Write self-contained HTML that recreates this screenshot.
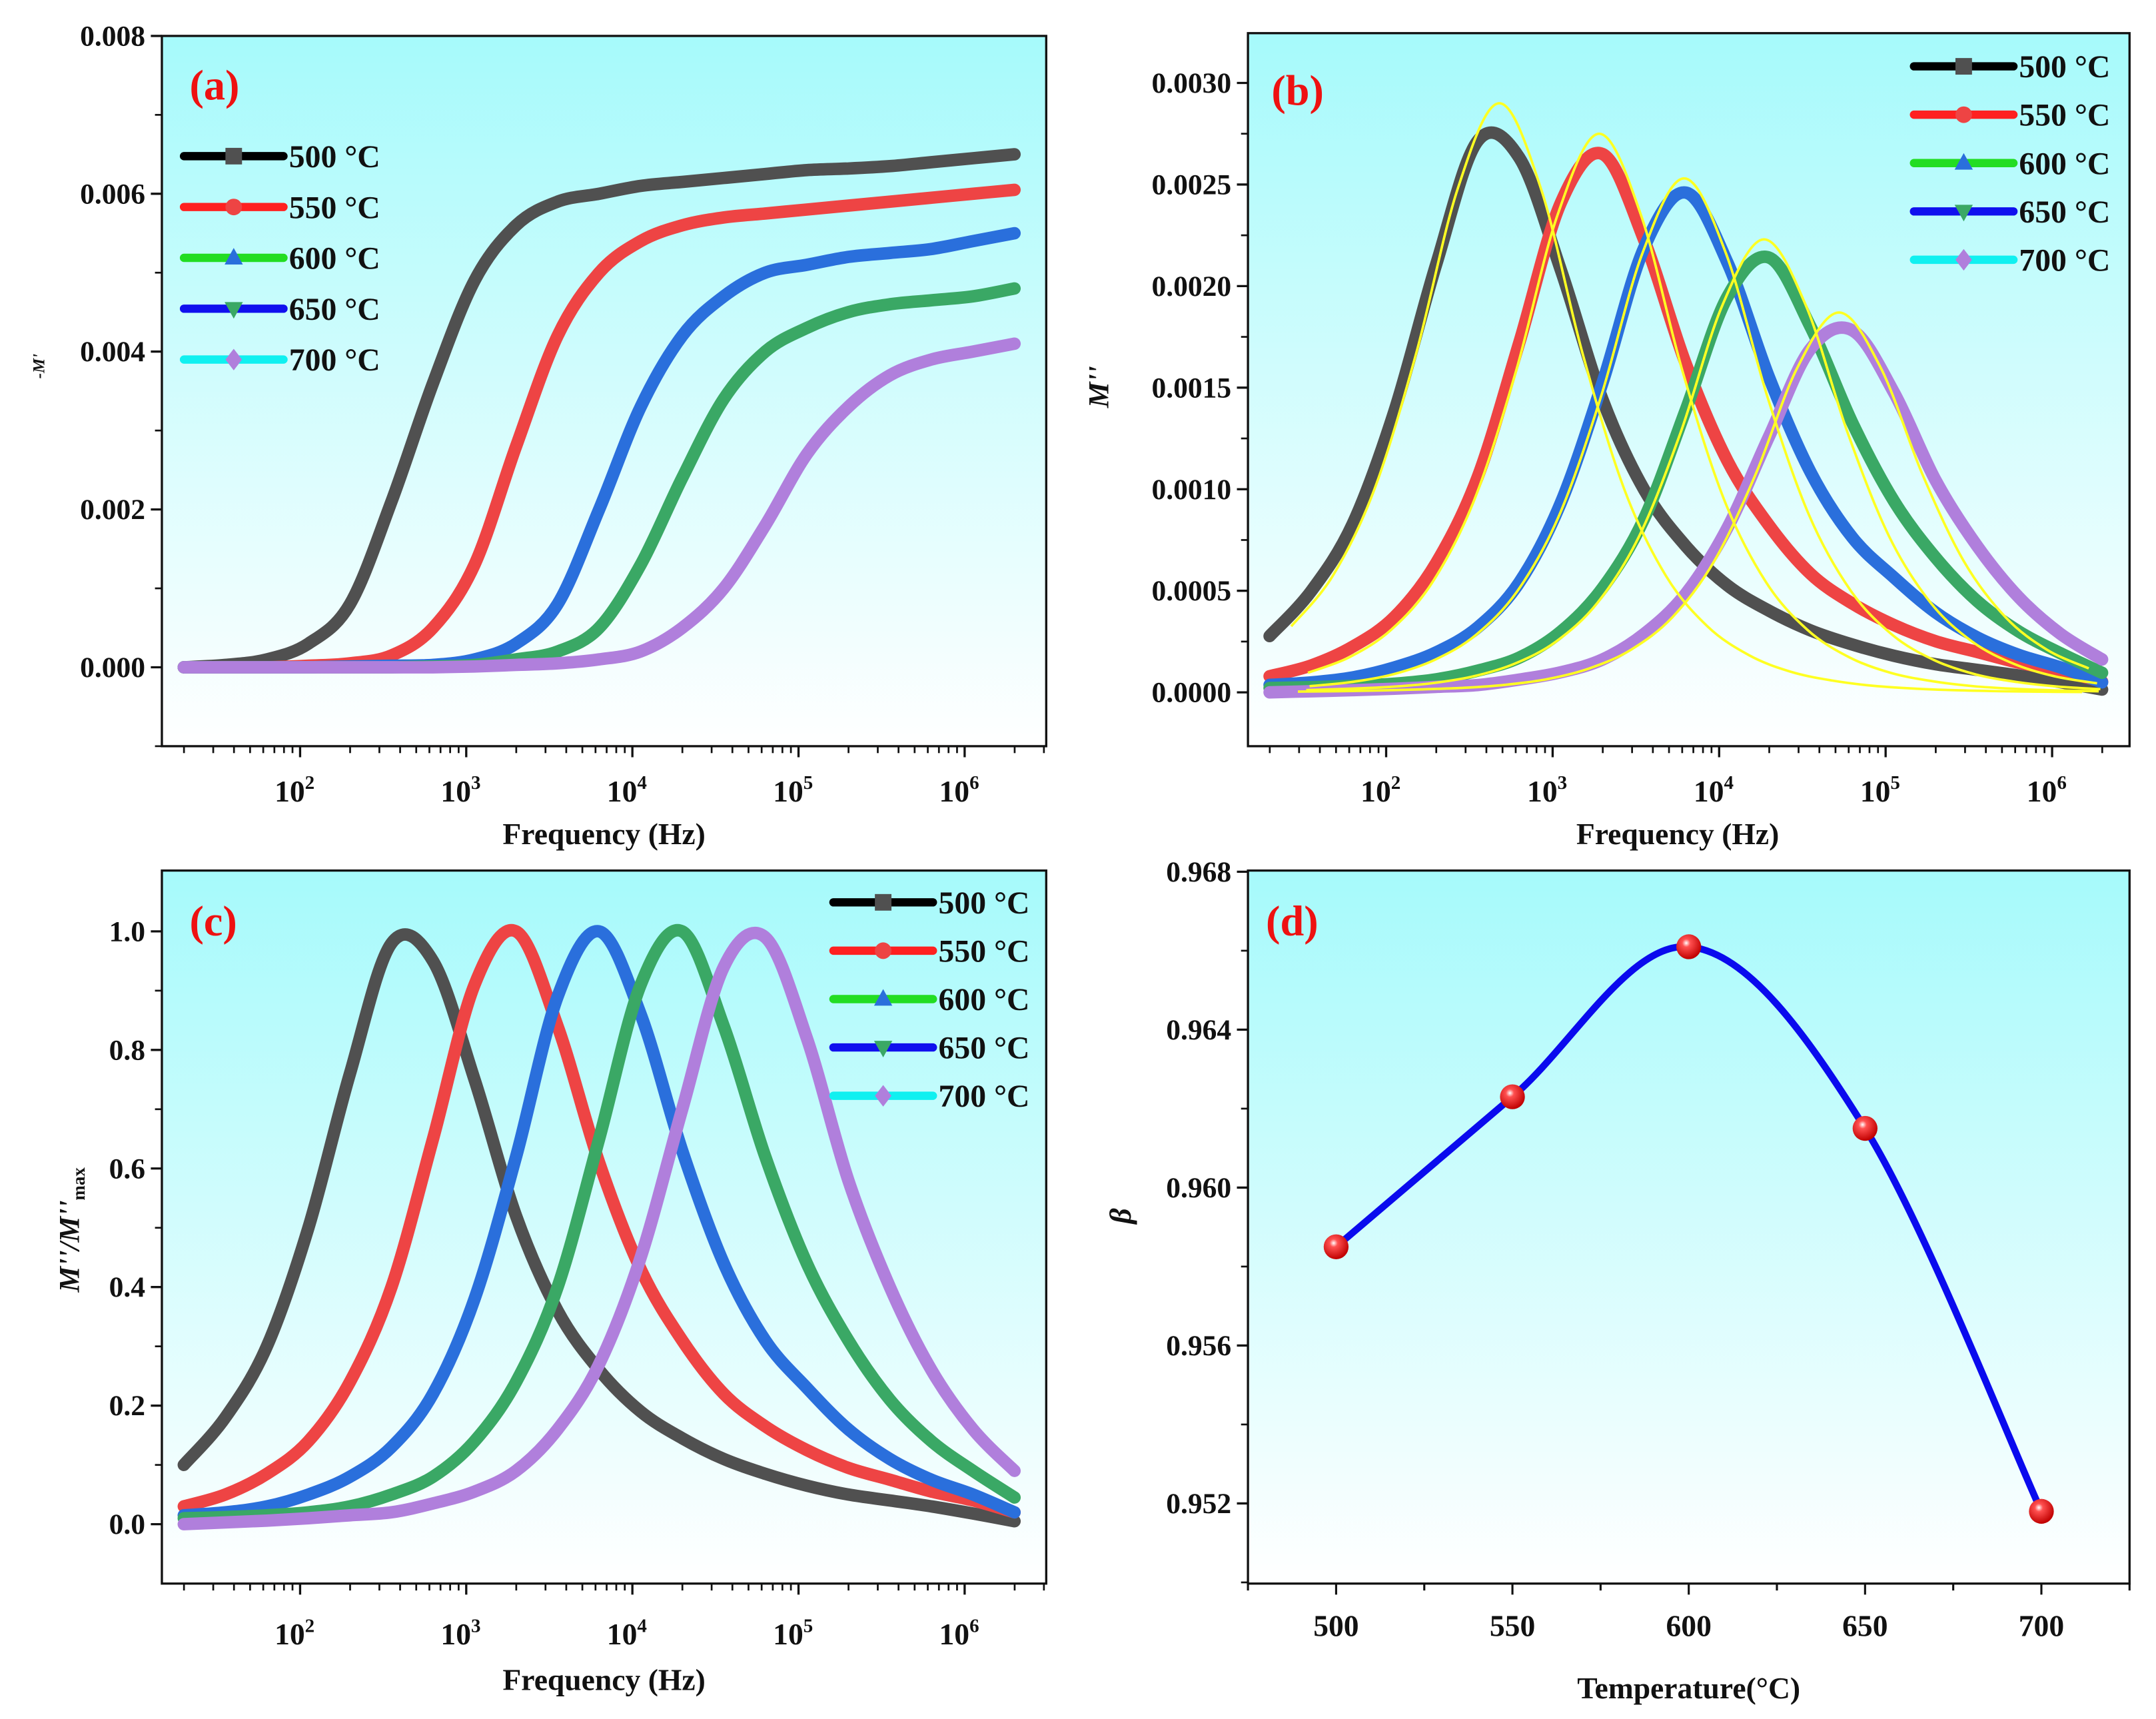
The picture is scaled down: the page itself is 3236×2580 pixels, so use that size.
<!DOCTYPE html>
<html><head><meta charset="utf-8">
<style>
html,body{margin:0;padding:0;background:#fff;}
svg{display:block;}
text{font-family:"Liberation Serif",serif;font-weight:bold;fill:#111;}
</style></head>
<body>
<svg id="fig" width="3236" height="2580" viewBox="0 0 1560 1244" xmlns="http://www.w3.org/2000/svg">
<defs>
<linearGradient id="bg" x1="0" y1="0" x2="0" y2="1">
<stop offset="0" stop-color="#a6fafb"/><stop offset="1" stop-color="#ffffff"/>
</linearGradient>
<radialGradient id="ball" cx="0.4" cy="0.35" r="0.65">
<stop offset="0" stop-color="#ffffff"/><stop offset="0.25" stop-color="#ff5050"/><stop offset="1" stop-color="#c00000"/>
</radialGradient>
</defs>
</svg>
<script>
// ---------- data ----------
const logF = [1.3,1.55,1.8,2.05,2.3,2.55,2.8,3.05,3.3,3.55,3.8,4.05,4.3,4.55,4.8,5.05,5.3,5.55,5.8,6.05,6.3];
const temps = ["500 °C","550 °C","600 °C","650 °C","700 °C"];
// panel (a) M'
const mA500 = [0,0.00003,0.0001,0.0003,0.0008,0.0021,0.0036,0.0049,0.0056,0.0059,0.0060,0.0061,0.00615,0.0062,0.00625,0.0063,0.00632,0.00635,0.0064,0.00645,0.0065];
const mA550 = [0,0,0,0.00002,0.00005,0.00015,0.0005,0.0013,0.0028,0.0042,0.0050,0.0054,0.0056,0.0057,0.00575,0.0058,0.00585,0.0059,0.00595,0.0060,0.00605];
const mA600 = [0,0,0,0,0.00001,0.00002,0.00003,0.0001,0.0003,0.0008,0.0020,0.0033,0.0042,0.0047,0.0050,0.0051,0.0052,0.00525,0.0053,0.0054,0.0055];
const mA650 = [0,0,0,0,0,0,0.00001,0.00003,0.0001,0.0002,0.0005,0.0013,0.0024,0.0034,0.0040,0.0043,0.0045,0.0046,0.00465,0.0047,0.0048];
const mA700 = [0,0,0,0,0,0,0,0.00001,0.00003,0.00005,0.0001,0.0002,0.0005,0.0010,0.0018,0.0027,0.0033,0.0037,0.0039,0.0040,0.0041];
// panel (c) normalized M''
const nC500 = [0.10,0.18,0.30,0.50,0.76,0.98,0.95,0.75,0.52,0.36,0.26,0.19,0.145,0.11,0.085,0.065,0.05,0.04,0.03,0.018,0.005];
const nC550 = [0.03,0.05,0.085,0.14,0.24,0.40,0.65,0.91,1.0,0.84,0.61,0.43,0.31,0.22,0.165,0.125,0.095,0.075,0.055,0.04,0.02];
const nC600 = [0.015,0.02,0.03,0.05,0.08,0.13,0.22,0.38,0.62,0.89,1.0,0.86,0.63,0.44,0.31,0.23,0.16,0.11,0.075,0.05,0.02];
const nC650 = [0.01,0.012,0.015,0.02,0.03,0.05,0.08,0.14,0.24,0.40,0.65,0.91,1.0,0.84,0.62,0.44,0.31,0.21,0.14,0.09,0.045];
const nC700 = [0.0,0.003,0.006,0.01,0.015,0.02,0.035,0.055,0.09,0.16,0.27,0.45,0.70,0.94,0.99,0.82,0.58,0.40,0.26,0.16,0.09];
// panel (b) peak heights of M''
const peakB = [0.00277,0.00265,0.00246,0.00214,0.00180];
// panel (b) fits
const fitPeak = [0.0029,0.00275,0.00253,0.00223,0.00187];
const fitCenter = [2.68,3.28,3.79,4.27,4.72];
const fitD = [-3.5,-3.25,-3,-2.75,-2.5,-2.25,-2,-1.75,-1.5,-1.25,-1,-0.75,-0.5,-0.25,0,0.25,0.5,0.75,1,1.25,1.5,1.75,2,2.25,2.5,2.75,3,3.25,3.5,3.75,4];
const fitShape = [0.001,0.002,0.003,0.005,0.008,0.012,0.02,0.035,0.063,0.112,0.198,0.345,0.575,0.855,1,0.855,0.575,0.345,0.198,0.112,0.063,0.035,0.02,0.011,0.0063,0.0035,0.002,0.0011,0.0006,0.0003,0.0001];
// panel (d)
const tempD = [500,550,600,650,700];
const betaD = [0.9585,0.9623,0.9661,0.9615,0.9518];

const lineCol = ["#000000","#ff2020","#22dd22","#1010ee","#10f0f0"];
const markCol = ["#505050","#ee4444","#2a6fdc","#3aa865","#b07fdc"];
const markShape = ["square","circle","up","down","diamond"];

const NS = "http://www.w3.org/2000/svg";
const svg = document.getElementById("fig");
function mk(tag, attrs, parent){ const e=document.createElementNS(NS,tag); for(const k in attrs) e.setAttribute(k,attrs[k]); (parent||svg).appendChild(e); return e; }

function smoothPath(pts){
  let d = "M"+pts[0][0].toFixed(2)+","+pts[0][1].toFixed(2);
  for(let i=0;i<pts.length-1;i++){
    const p0=pts[Math.max(0,i-1)],p1=pts[i],p2=pts[i+1],p3=pts[Math.min(pts.length-1,i+2)];
    const c1=[p1[0]+(p2[0]-p0[0])/6,p1[1]+(p2[1]-p0[1])/6];
    const c2=[p2[0]-(p3[0]-p1[0])/6,p2[1]-(p3[1]-p1[1])/6];
    d+=" C"+c1[0].toFixed(2)+","+c1[1].toFixed(2)+" "+c2[0].toFixed(2)+","+c2[1].toFixed(2)+" "+p2[0].toFixed(2)+","+p2[1].toFixed(2);
  }
  return d;
}
function marker(g,shape,x,y,r,col){
  let e;
  if(shape==="square") e=mk("rect",{x:x-r,y:y-r,width:2*r,height:2*r,fill:col},g);
  else if(shape==="circle") e=mk("circle",{cx:x,cy:y,r:r,fill:col},g);
  else if(shape==="up") e=mk("polygon",{points:`${x},${y-r*1.2} ${x-r*1.1},${y+r*0.8} ${x+r*1.1},${y+r*0.8}`,fill:col},g);
  else if(shape==="down") e=mk("polygon",{points:`${x},${y+r*1.2} ${x-r*1.1},${y-r*0.8} ${x+r*1.1},${y-r*0.8}`,fill:col},g);
  else e=mk("polygon",{points:`${x},${y-r*1.3} ${x-r},${y} ${x},${y+r*1.3} ${x+r},${y}`,fill:col},g);
  return e;
}

function panel(p){
  const g = mk("g",{});
  
  
  const bg = mk("rect",{x:p.x0,y:p.y0,width:p.x1-p.x0,height:p.y1-p.y0,fill:"url(#bg)"},g);
  
  
  p.sx = v => p.x0 + (v-p.xmin)/(p.xmax-p.xmin)*(p.x1-p.x0);
  p.sy = v => p.y1 - (v-p.ymin)/(p.ymax-p.ymin)*(p.y1-p.y0);
  return g;
}
function frame(p,g){
  const f = mk("rect",{x:p.x0,y:p.y0,width:p.x1-p.x0,height:p.y1-p.y0,fill:"none",stroke:"#111","stroke-width":1.6},g);
  
  
}
function yAxis(p,g,ticks,labels,minor){
  const ax = mk("g",{},g);
  
  
  ticks.forEach((v,i)=>{
    const y=p.sy(v);
    mk("line",{x1:p.x0,x2:p.x0-8,y1:y,y2:y,stroke:"#111","stroke-width":1.6},ax);
    const t=mk("text",{x:p.x0-12,y:y+7,"text-anchor":"end","font-size":21},ax);
    t.textContent=labels[i];
    
    
  });
  minor.forEach(v=>{ const y=p.sy(v); mk("line",{x1:p.x0,x2:p.x0-5,y1:y,y2:y,stroke:"#111","stroke-width":1.3},ax); });
}
function logXAxis(p,g,yLab){
  const ax = mk("g",{},g);
  
  
  for(let dec=1;dec<=6;dec++){
    for(let m=1;m<10;m++){
      const lv=dec+Math.log10(m);
      if(lv<p.xmin||lv>p.xmax) continue;
      const x=p.sx(lv);
      mk("line",{x1:x,x2:x,y1:p.y1,y2:p.y1+(m===1?8:5),stroke:"#111","stroke-width":m===1?1.6:1.3},ax);
    }
  }
  [2,3,4,5,6].forEach(dec=>{
    const x=p.sx(dec);
    const t=mk("text",{x:x-4,y:yLab,"text-anchor":"middle","font-size":22},ax);
    
    
    t.appendChild(document.createTextNode("10"));
    const s=document.createElementNS(NS,"tspan"); s.setAttribute("dy","-9"); s.setAttribute("font-size","14"); s.textContent=String(dec); t.appendChild(s);
  });
}
function title(g,x,y,txt,rot,size,italic,name){
  const t=mk("text",{x:x,y:y,"text-anchor":"middle","font-size":size},g);
  if(rot) t.setAttribute("transform",`rotate(-90 ${x} ${y})`);
  if(italic) t.setAttribute("font-style","italic");
  t.textContent=txt;
  
  
  return t;
}
function panelLabel(g,x,y,txt){
  const t=mk("text",{x:x,y:y,"font-size":31,fill:"#ee1111"},g);
  t.style.fill="#ee1111";
  t.textContent=txt;
  
  
}
function legend(g,lx,ly0,dy){
  const lg=mk("g",{},g);
  
  
  temps.forEach((lab,i)=>{
    const y=ly0+i*dy;
    const e=mk("g",{},lg);
    
    
    mk("line",{x1:lx,x2:lx+72,y1:y,y2:y,stroke:lineCol[i],"stroke-width":6,"stroke-linecap":"round"},e);
    marker(e,markShape[i],lx+36,y,6,markCol[i]);
    const t=mk("text",{x:lx+76,y:y+8,"font-size":23},e);
    t.textContent=lab;
  });
}
function series(p,g,ys,i,name){
  const pts=logF.map((lf,k)=>[p.sx(lf),p.sy(ys[k])]);
  const path=mk("path",{d:smoothPath(pts),fill:"none",stroke:markCol[i],"stroke-width":9,"stroke-linejoin":"round","stroke-linecap":"round"},g);
  
  
}

// ---------- panel (a) ----------
const pa={name:"panel-a",x0:117,x1:757,y0:26,y1:540,xmin:1.168,xmax:6.491,ymin:-0.001,ymax:0.008};
const ga=panel(pa);
[mA500,mA550,mA600,mA650,mA700].forEach((s,i)=>series(pa,ga,s,i,"series-a-"+temps[i].slice(0,3)));
frame(pa,ga);
yAxis(pa,ga,[0,0.002,0.004,0.006,0.008],["0.000","0.002","0.004","0.006","0.008"],[-0.001,0.001,0.003,0.005,0.007]);
logXAxis(pa,ga,580);
title(ga,437,611,"Frequency (Hz)",false,22,false,"x-axis-title");
title(ga,32,265,"-M'",true,12,true,"y-axis-title");
panelLabel(ga,137,72,"(a)");
legend(ga,133,113,36.8);

// ---------- panel (b) ----------
const pb={name:"panel-b",x0:903,x1:1541,y0:24,y1:540,xmin:1.170,xmax:6.465,ymin:-0.000265,ymax:0.003245};
const gb=panel(pb);
[nC500,nC550,nC600,nC650,nC700].forEach((s,i)=>series(pb,gb,s.map(v=>v*peakB[i]),i,"series-b-"+temps[i].slice(0,3)));
fitPeak.forEach((pk,i)=>{
  const pts=[];
  fitD.forEach((d,k)=>{ const lf=fitCenter[i]+d; if(lf>=1.3&&lf<=6.32) pts.push([pb.sx(lf),pb.sy(pk*fitShape[k])]); });
  const f=mk("path",{d:smoothPath(pts),fill:"none",stroke:"#ffff22","stroke-width":1.8},gb);
  
  
});
frame(pb,gb);
yAxis(pb,gb,[0,0.0005,0.001,0.0015,0.002,0.0025,0.003],["0.0000","0.0005","0.0010","0.0015","0.0020","0.0025","0.0030"],[0.00025,0.00075,0.00125,0.00175,0.00225,0.00275]);
logXAxis(pb,gb,580);
title(gb,1214,611,"Frequency (Hz)",false,22,false,"x-axis-title");
title(gb,802,280,"M''",true,21,true,"y-axis-title");
panelLabel(gb,920,76,"(b)");
legend(gb,1385,48,35);

// ---------- panel (c) ----------
const pc={name:"panel-c",x0:117,x1:757,y0:630,y1:1146,xmin:1.168,xmax:6.491,ymin:-0.1002,ymax:1.1026};
const gc=panel(pc);
[nC500,nC550,nC600,nC650,nC700].forEach((s,i)=>series(pc,gc,s,i,"series-c-"+temps[i].slice(0,3)));
frame(pc,gc);
yAxis(pc,gc,[0,0.2,0.4,0.6,0.8,1.0],["0.0","0.2","0.4","0.6","0.8","1.0"],[0.1,0.3,0.5,0.7,0.9]);
logXAxis(pc,gc,1190);
title(gc,437,1223,"Frequency (Hz)",false,22,false,"x-axis-title");
(function(){
  const t=mk("text",{x:57,y:890,"text-anchor":"middle","font-size":21,"font-style":"italic",transform:"rotate(-90 57 890)"},gc);
  
  
  t.appendChild(document.createTextNode("M''/M''"));
  const s=document.createElementNS(NS,"tspan"); s.setAttribute("font-size","13"); s.setAttribute("font-style","normal"); s.setAttribute("dy","4"); s.textContent="max"; t.appendChild(s);
})();
panelLabel(gc,137,677,"(c)");
legend(gc,603,653,35);

// ---------- panel (d) ----------
const pd={name:"panel-d",x0:903,x1:1541,y0:630,y1:1146,xmin:475,xmax:725,ymin:0.94997,ymax:0.96803};
const gd=panel(pd);
const dpts=tempD.map((t,k)=>[pd.sx(t),pd.sy(betaD[k])]);
const dl=mk("path",{d:smoothPath(dpts),fill:"none",stroke:"#0a0aee","stroke-width":5},gd);


dpts.forEach(pt=>{
  const c=mk("circle",{cx:pt[0],cy:pt[1],r:9,fill:"url(#ball)"},gd);
  
  
});
frame(pd,gd);
yAxis(pd,gd,[0.952,0.956,0.960,0.964,0.968],["0.952","0.956","0.960","0.964","0.968"],[0.950,0.954,0.958,0.962,0.966]);
(function(){
  const ax=mk("g",{},gd);
  
  
  [475,500,525,550,575,600,625,650,675,700,725].forEach(v=>{
    const x=pd.sx(v); const major=(v%50===0);
    mk("line",{x1:x,x2:x,y1:pd.y1,y2:pd.y1+(major?8:5),stroke:"#111","stroke-width":1.5},ax);
    if(major){
      const t=mk("text",{x:x,y:1184,"text-anchor":"middle","font-size":22},ax);
      t.textContent=String(v);
      
      
    }
  });
})();
title(gd,1222,1229,"Temperature(°C)",false,22,false,"x-axis-title");
title(gd,818,880,"β",true,22,true,"y-axis-title");
panelLabel(gd,916,677,"(d)");
</script>
</body></html>
